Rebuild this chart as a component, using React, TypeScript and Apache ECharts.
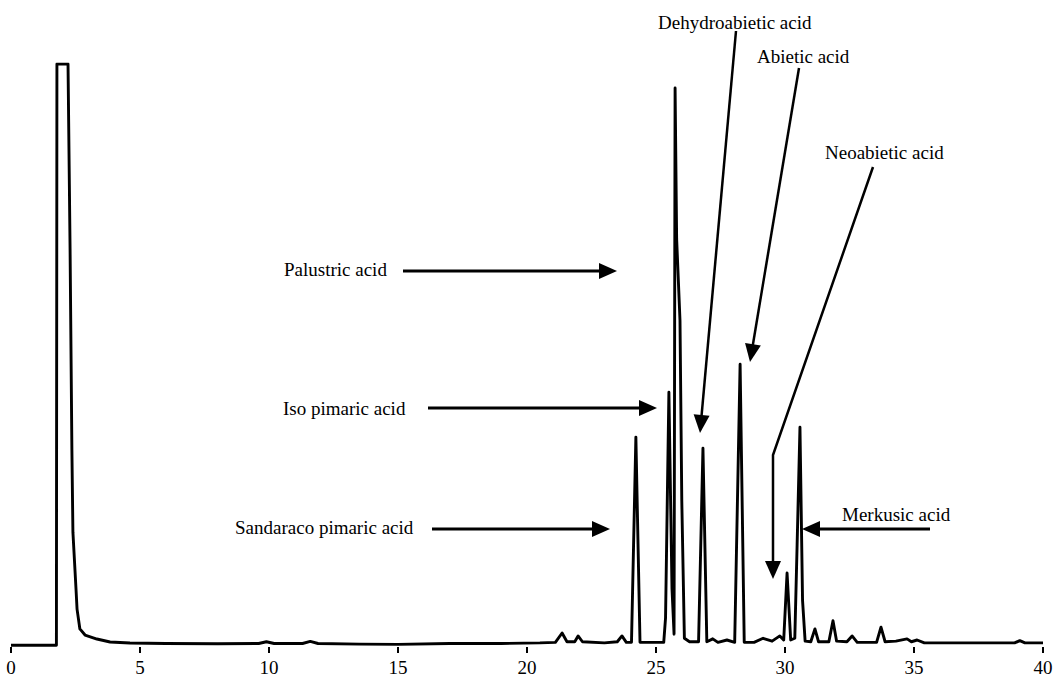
import React, { useEffect, useRef } from "react";
import * as echarts from "echarts";

// Retention time (min) and detector response (% of full scale)
const retentionTime = [
  0, 1.0, 1.76, 1.78, 2.21, 2.29, 2.36, 2.4, 2.52, 2.56, 2.67, 2.87, 3.33, 3.84, 4.61,
  6.0, 8.0, 9.6, 9.9, 10.2, 11.3, 11.6, 11.9, 13.5, 15.0, 17.0, 19.0, 20.5, 21.1,
  21.36, 21.55, 21.85, 21.98, 22.15, 23.0, 23.5, 23.68, 23.85, 24.05, 24.22, 24.38,
  25.3, 25.37, 25.5, 25.62, 25.7, 25.74, 25.8, 25.93, 26.0, 26.1, 26.3, 26.65, 26.82,
  26.97, 27.2, 27.4, 27.75, 28.05, 28.26, 28.42, 28.8, 29.15, 29.5, 29.8, 29.95, 30.08,
  30.22, 30.38, 30.47, 30.58, 30.68, 30.78, 31.0, 31.16, 31.3, 31.7, 31.86, 32.0, 32.4,
  32.6, 32.8, 33.55, 33.72, 33.88, 34.3, 34.73, 34.9, 35.12, 35.4, 36.5, 37.5, 38.9,
  39.1, 39.3, 40,
];
const response = [
  0.3, 0.3, 0.3, 100, 100, 68.2, 33.9, 19.7, 9.9, 6.5, 3.1, 2.05, 1.37, 0.86, 0.68,
  0.6, 0.55, 0.6, 0.9, 0.6, 0.6, 0.95, 0.6, 0.5, 0.45, 0.6, 0.6, 0.7, 0.8,
  2.4, 0.9, 0.9, 1.9, 0.9, 0.7, 0.9, 1.9, 0.8, 0.8, 36.0, 0.8,
  0.8, 5, 43.7, 10, 2.2, 95.9, 70, 56, 25, 1.5, 0.9, 0.9, 34.1,
  0.9, 1.4, 0.8, 1.2, 0.8, 48.5, 0.8, 0.8, 1.5, 1.0, 1.9, 1.2, 12.7,
  1.2, 1.5, 17.6, 37.7, 8, 1.0, 0.9, 3.1, 0.9, 0.9, 4.5, 1.0, 0.9,
  1.9, 0.8, 0.8, 3.4, 0.9, 1.0, 1.4, 0.9, 1.2, 0.7, 0.7, 0.7, 0.7,
  1.1, 0.7, 0.7,
];
const xTickInterval = 5;

const FONT = '19px "Liberation Serif", "DejaVu Serif", serif';

type Pt = [number, number];

function arrow(points: Pt[], width: number, headLen = 18, headHalf = 8) {
  const n = points.length;
  const [tx, ty] = points[n - 1];
  const [px, py] = points[n - 2];
  const dx = tx - px;
  const dy = ty - py;
  const len = Math.sqrt(dx * dx + dy * dy);
  const ux = dx / len;
  const uy = dy / len;
  const bx = tx - ux * headLen;
  const by = ty - uy * headLen;
  const nx = -uy;
  const ny = ux;
  const linePts = points.slice(0, n - 1).concat([[bx + ux * 2, by + uy * 2]]);
  return [
    {
      type: "polyline",
      shape: { points: linePts },
      style: { stroke: "#000", lineWidth: width, fill: null },
      silent: true,
    },
    {
      type: "polygon",
      shape: {
        points: [
          [tx, ty],
          [bx + nx * headHalf, by + ny * headHalf],
          [bx - nx * headHalf, by - ny * headHalf],
        ],
      },
      style: { fill: "#000" },
      silent: true,
    },
  ];
}

function label(text: string, x: number, y: number) {
  return {
    type: "text",
    x,
    y,
    style: {
      text,
      font: FONT,
      fill: "#000",
      textAlign: "left",
      textVerticalAlign: "middle",
    },
    silent: true,
  };
}

export default function App() {
  const ref = useRef<HTMLDivElement>(null);
  useEffect(() => {
    document.body.style.margin = "0";
    if (!ref.current) return;
    const chart = echarts.init(ref.current, undefined, { renderer: "svg" });
    const data = retentionTime.map((t, i) => [t, response[i]]);
    chart.setOption({
      animation: false,
      backgroundColor: "#fff",
      grid: { left: 11, right: 15, top: 64, bottom: 29 },
      xAxis: {
        type: "value",
        min: 0,
        max: 40,
        interval: xTickInterval,
        axisLine: { show: false },
        axisTick: { show: true, length: 6, lineStyle: { color: "#000", width: 2 } },
        axisLabel: {
          color: "#000",
          fontFamily: '"Liberation Serif", serif',
          fontSize: 19,
          margin: 11,
        },
        splitLine: { show: false },
      },
      yAxis: {
        type: "value",
        min: 0,
        max: 100,
        show: false,
        splitLine: { show: false },
      },
      series: [
        {
          type: "line",
          data,
          showSymbol: false,
          symbol: "none",
          lineStyle: { color: "#000", width: 2.9, join: "round" },
          silent: true,
        },
      ],
      graphic: [
        label("Dehydroabietic acid", 658, 22),
        label("Abietic acid", 757, 56),
        label("Neoabietic acid", 825, 152),
        label("Palustric acid", 284, 269),
        label("Iso pimaric acid", 283, 408),
        label("Sandaraco pimaric acid", 235, 527),
        label("Merkusic acid", 842, 514),
        ...arrow([[736, 31], [700, 433]], 2.5),
        ...arrow([[799, 68], [750, 362]], 2.5),
        ...arrow([[873, 167], [773, 455], [773, 579]], 2.5),
        ...arrow([[403, 271], [617, 271]], 3),
        ...arrow([[428, 408], [657, 408]], 3),
        ...arrow([[432, 529], [610, 529]], 3),
        ...arrow([[930, 529], [802, 529]], 3),
      ],
    });
    return () => chart.dispose();
  }, []);
  return <div ref={ref} style={{ width: 1058, height: 677 }} />;
}
